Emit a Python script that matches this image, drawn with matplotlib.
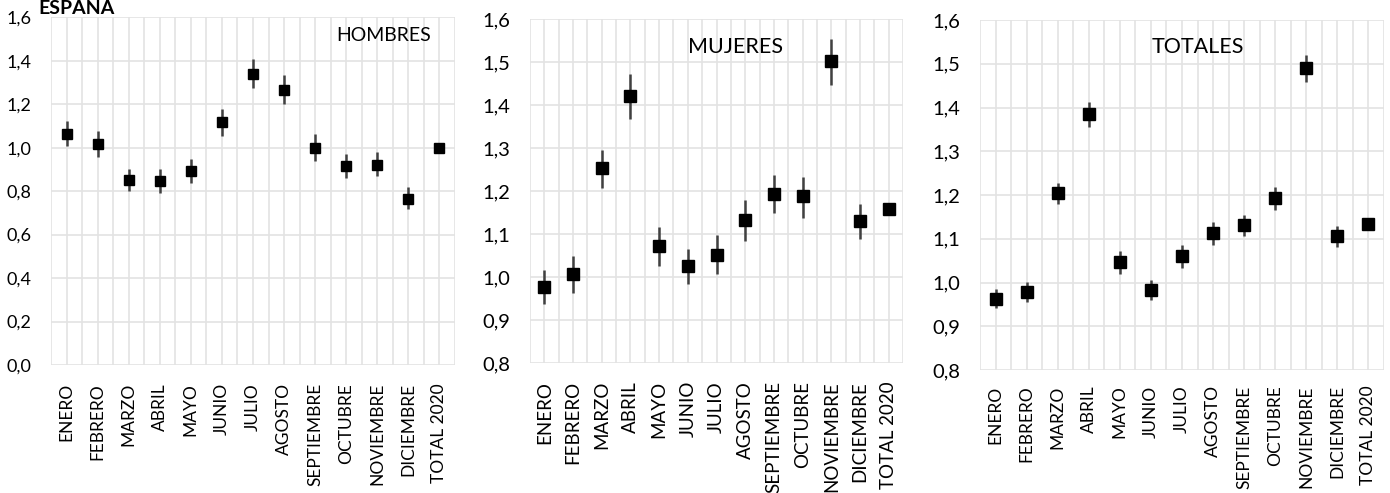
import matplotlib
matplotlib.use("Agg")
import matplotlib.pyplot as plt
import numpy as np

plt.rcParams['font.family'] = ['Lato', 'DejaVu Sans']

meses = ['ENERO', 'FEBRERO', 'MARZO', 'ABRIL', 'MAYO', 'JUNIO', 'JULIO', 'AGOSTO',
         'SEPTIEMBRE', 'OCTUBRE', 'NOVIEMBRE', 'DICIEMBRE', 'TOTAL 2020']

# valores estimados (punto, limite inferior, limite superior)
hombres = [1.064, 1.018, 0.853, 0.848, 0.891, 1.117, 1.340, 1.267, 1.000, 0.917, 0.922, 0.765, 1.000]
hombres_inf = [1.006, 0.957, 0.800, 0.790, 0.837, 1.055, 1.275, 1.200, 0.939, 0.859, 0.868, 0.718, 1.000]
hombres_sup = [1.121, 1.078, 0.903, 0.902, 0.946, 1.179, 1.410, 1.334, 1.061, 0.972, 0.980, 0.817, 1.000]

mujeres = [0.978, 1.008, 1.253, 1.422, 1.072, 1.026, 1.051, 1.133, 1.193, 1.188, 1.503, 1.130, 1.158]
mujeres_inf = [0.938, 0.964, 1.208, 1.367, 1.026, 0.984, 1.006, 1.084, 1.149, 1.138, 1.447, 1.089, 1.158]
mujeres_sup = [1.016, 1.049, 1.295, 1.473, 1.117, 1.066, 1.097, 1.179, 1.237, 1.234, 1.554, 1.170, 1.158]

totales = [0.963, 0.978, 1.204, 1.385, 1.046, 0.982, 1.060, 1.113, 1.131, 1.193, 1.490, 1.106, 1.134]
totales_inf = [0.941, 0.955, 1.180, 1.355, 1.020, 0.960, 1.034, 1.085, 1.106, 1.165, 1.459, 1.082, 1.134]
totales_sup = [0.986, 1.002, 1.228, 1.413, 1.072, 1.006, 1.086, 1.139, 1.154, 1.219, 1.520, 1.129, 1.134]

W, H = 1390, 493
fig = plt.figure(figsize=(W / 100, H / 100), dpi=100)


def panel(box, vals, inf, sup, ylim, step, titulo, tx, ty, ha, fx, fy, ft, ms, px):
    l, t, r, b = box
    ax = fig.add_axes([l / W, 1 - b / H, (r - l) / W, (b - t) / H])
    x = np.arange(len(meses))
    vals = np.array(vals)
    yerr = [vals - np.array(inf), np.array(sup) - vals]
    ax.errorbar(x, vals, yerr=yerr, fmt='s', color='black', ms=ms,
                ecolor='#404040', elinewidth=1.8, capsize=0, zorder=3)
    ax.set_xlim(-0.5, len(meses) - 0.5)
    ax.set_ylim(*ylim)
    ax.set_yticks(np.arange(ylim[0], ylim[1] + step / 2, step))
    ax.yaxis.set_major_formatter(plt.FuncFormatter(lambda v, p: f'{v:.1f}'.replace('.', ',')))
    ax.set_xticks(x)
    ax.set_xticks(np.arange(-0.5, len(meses), 1), minor=True)
    ax.set_xticklabels(meses, rotation=90, fontsize=fx, va='top', ha='center')
    ax.tick_params(axis='both', length=0, which='both')
    ax.tick_params(axis='x', pad=px)
    ax.tick_params(axis='y', labelsize=fy, pad=14)
    ax.grid(True, which='both', color='#e3e3e3', lw=1.2)
    ax.set_axisbelow(True)
    for s in ax.spines.values():
        s.set_visible(False)
    ax.text(tx, ty, titulo, transform=ax.transAxes, fontsize=ft, ha=ha, va='center')
    return ax


panel((51, 17.3, 455, 365), hombres, hombres_inf, hombres_sup, (0, 1.6), 0.2,
      'HOMBRES', 0.94, 0.949, 'right', 12.5, 13, 14, 7.5, 13)
panel((530, 19.3, 903, 363), mujeres, mujeres_inf, mujeres_sup, (0.8, 1.6), 0.1,
      'MUJERES', 0.55, 0.919, 'center', 13.5, 14.5, 15.5, 8, 13)
panel((980, 20, 1384, 370), totales, totales_inf, totales_sup, (0.8, 1.6), 0.1,
      'TOTALES', 0.54, 0.923, 'center', 12.5, 14.5, 15.5, 8, 11)

fig.text(38 / W, 1, 'ESPAÑA', fontsize=14, fontweight='bold', ha='left', va='top')

fig.savefig('out.png', dpi=100)
